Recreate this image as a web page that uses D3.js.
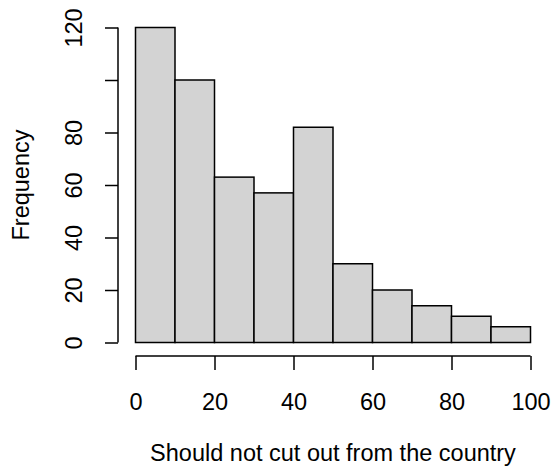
<!DOCTYPE html>
<html><head><meta charset="utf-8">
<script src="https://cdn.jsdelivr.net/npm/d3@7"></script>
<style>body{margin:0;background:#fff}svg{display:block}text{font-family:"Liberation Sans",Arial,sans-serif;fill:#000}</style>
</head><body>
<script>
const binEdges = [0,10,20,30,40,50,60,70,80,90,100];
const counts = [120,100,63,57,82,30,20,14,10,6];
const xTicks = [0,20,40,60,80,100];
const yTicks = [0,20,40,60,80,100,120];
const yTickLabels = ["0","20","40","60","80","","120"];
const xTitle = "Should not cut out from the country";
const yTitle = "Frequency";

const W=555,H=475,FS=23.5;
const svg=d3.select("body").append("svg").attr("width",W).attr("height",H);
const x=d3.scaleLinear().domain([0,100]).range([135.5,530.5]);
const y=d3.scaleLinear().domain([0,120]).range([342.5,27.5]);

const bins=counts.map((c,i)=>({x0:binEdges[i],x1:binEdges[i+1],c}));
svg.append("g").selectAll("rect").data(bins).join("rect")
 .attr("x",d=>x(d.x0)).attr("y",d=>y(d.c))
 .attr("width",d=>x(d.x1)-x(d.x0)).attr("height",d=>y(0)-y(d.c))
 .attr("fill","#d3d3d3").attr("stroke","#000").attr("stroke-width",1.5);

// x axis
const xa=svg.append("g").attr("transform","translate(0,356)")
 .call(d3.axisBottom(x).tickValues(xTicks).tickSize(14).tickFormat(d3.format("d")));
xa.select(".domain").attr("stroke-width",1.5).attr("d",`M${x(0)},0H${x(100)}`);
xa.selectAll(".tick line").attr("stroke-width",1.5);
xa.selectAll(".tick text").style("font-size",FS+"px").attr("y",54).attr("dy",0);

// y axis
const ya=svg.append("g").attr("transform","translate(118,0)")
 .call(d3.axisLeft(y).tickValues(yTicks).tickSize(13).tickFormat((d,i)=>yTickLabels[i]));
ya.select(".domain").attr("stroke-width",1.5).attr("d",`M0,${y(0)}V${y(120)}`);
ya.selectAll(".tick line").attr("stroke-width",1.5);
ya.selectAll(".tick text").style("font-size",FS+"px")
 .attr("x",0).attr("dy",0).attr("text-anchor","middle")
 .attr("transform","translate(-36,0) rotate(-90)");

svg.append("text").attr("x",x(50)).attr("y",461).attr("text-anchor","middle").style("font-size",FS+"px").text(xTitle);
svg.append("text").attr("transform",`translate(29,${y(60)}) rotate(-90)`).attr("text-anchor","middle").style("font-size",FS+"px").text(yTitle);
</script>
</body></html>
